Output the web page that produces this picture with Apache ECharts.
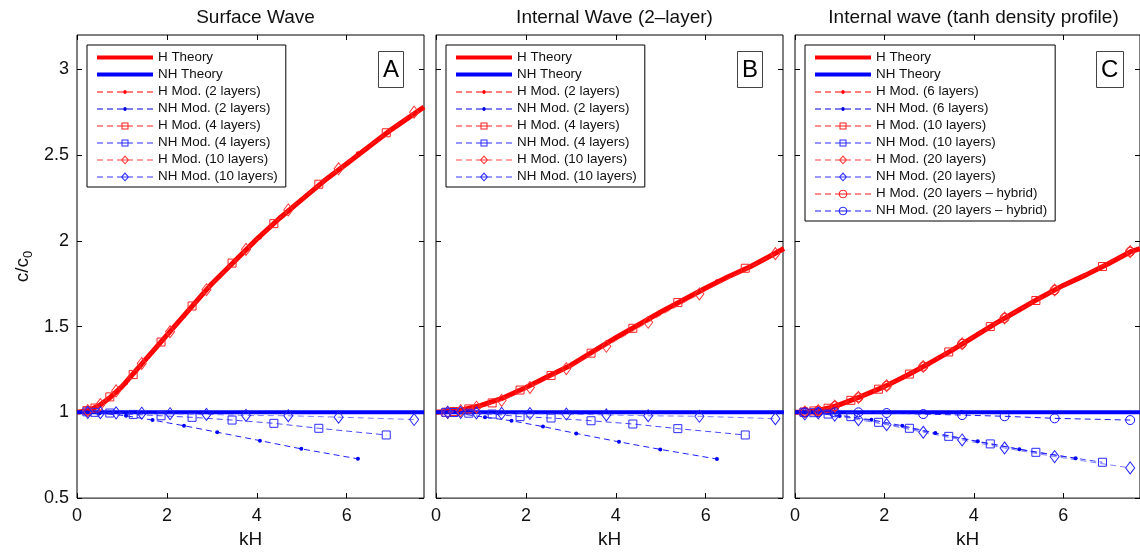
<!DOCTYPE html>
<html>
<head>
<meta charset="utf-8">
<script src="https://cdn.jsdelivr.net/npm/echarts@6/dist/echarts.min.js"></script>
<style>
html,body{margin:0;padding:0;background:#fff;}
#chart{width:1140px;height:554px;}
</style>
</head>
<body>
<div id="chart"></div>
<script>
// ---------- axis ticks / labels ----------
const xTicks = [0, 2, 4, 6];
const yTicks = [0.5, 1, 1.5, 2, 2.5, 3];
const panelTitles = ['Surface Wave', 'Internal Wave (2\u2013layer)', 'Internal wave (tanh density profile)'];
const panelLetters = ['A', 'B', 'C'];

// ---------- Panel A : surface wave ----------
const aHTheory = [[0,1],[0.25,1.01],[0.5,1.04],[0.75,1.09],[1,1.15],[1.5,1.30],[2,1.45],[2.5,1.60],[3,1.75],[3.5,1.88],[4,2.01],[4.5,2.13],[5,2.24],[5.5,2.35],[6,2.45],[6.5,2.55],[7,2.65],[7.5,2.74],[7.72,2.78]];
const aNHTheory = [[0,1],[7.72,1]];
const aX2 = [0.23,0.5,1.09,1.68,2.38,3.12,4.07,4.99,6.25];
const aHMod2 = [1.01,1.04,1.17,1.35,1.56,1.78,2.02,2.24,2.51];
const aNHMod2 = [1.0,0.995,0.98,0.955,0.922,0.884,0.835,0.787,0.729];
const aX4 = [0.22,0.4,0.73,1.25,1.87,2.56,3.45,4.38,5.38,6.88];
const aHMod4 = [1.01,1.025,1.09,1.22,1.41,1.62,1.87,2.10,2.33,2.63];
const aNHMod4 = [1.003,1.0,0.996,0.988,0.98,0.971,0.955,0.936,0.907,0.868];
const aX10 = [0.24,0.52,0.87,1.44,2.07,2.88,3.76,4.70,5.82,7.50];
const aHMod10 = [1.01,1.045,1.125,1.285,1.47,1.715,1.95,2.18,2.42,2.75];
const aNHMod10 = [1.0,0.998,0.997,0.995,0.992,0.988,0.982,0.98,0.972,0.958];

// ---------- Panel B : internal wave, 2 layers ----------
const bHTheory = [[0,1],[0.5,1.01],[1,1.04],[1.5,1.085],[2,1.145],[2.5,1.21],[3,1.275],[3.5,1.355],[4,1.435],[4.5,1.51],[5,1.585],[5.5,1.655],[6,1.725],[6.5,1.79],[7,1.85],[7.5,1.92],[7.74,1.955]];
const bNHTheory = [[0,1],[7.74,1]];
const bX2 = [0.23,0.5,1.09,1.68,2.38,3.12,4.07,4.99,6.25];
const bHMod2 = [1.0,1.01,1.045,1.105,1.195,1.295,1.445,1.585,1.765];
const bNHMod2 = [1.0,0.993,0.972,0.951,0.917,0.877,0.828,0.784,0.728];
const bX4 = [0.22,0.4,0.73,1.25,1.87,2.56,3.45,4.38,5.38,6.88];
const bHMod4 = [1.0,1.005,1.02,1.055,1.13,1.215,1.345,1.49,1.64,1.84];
const bNHMod4 = [1.0,0.999,0.995,0.99,0.975,0.967,0.951,0.932,0.905,0.868];
const bX10 = [0.26,0.55,0.90,1.46,2.09,2.90,3.79,4.72,5.86,7.55];
const bHMod10 = [1.0,1.01,1.03,1.07,1.145,1.255,1.385,1.525,1.69,1.925];
const bNHMod10 = [1.0,1.0,0.996,0.994,0.993,0.99,0.985,0.98,0.977,0.963];

// ---------- Panel C : internal wave, tanh profile ----------
const cHTheory = [[0,1],[0.25,1.002],[0.5,1.01],[0.75,1.025],[1,1.045],[1.5,1.095],[2,1.15],[2.5,1.215],[3,1.285],[3.5,1.36],[4,1.44],[4.5,1.52],[5,1.595],[5.5,1.67],[6,1.74],[6.5,1.80],[7,1.865],[7.5,1.935],[7.72,1.955]];
const cNHTheory = [[0,1],[7.72,1]];
const cX6 = [0.22,0.5,1.0,1.71,2.40,3.14,4.09,5.02,6.28];
const cHMod6 = [1.002,1.01,1.045,1.115,1.2,1.305,1.455,1.6,1.775];
const cNHMod6 = [1.0,0.995,0.978,0.957,0.922,0.879,0.831,0.785,0.732];
const cX10 = [0.2,0.42,0.74,1.25,1.87,2.56,3.44,4.37,5.39,6.88];
const cHMod10 = [1.002,1.008,1.024,1.07,1.135,1.223,1.352,1.5,1.652,1.85];
const cNHMod10 = [1.0,0.998,0.99,0.975,0.942,0.907,0.86,0.816,0.767,0.709];
const cX20 = [0.22,0.52,0.89,1.42,2.05,2.87,3.74,4.69,5.81,7.50];
const cHMod20 = [1.002,1.01,1.036,1.087,1.155,1.267,1.4,1.55,1.713,1.937];
const cNHMod20 = [0.99,0.996,0.984,0.957,0.928,0.884,0.839,0.792,0.742,0.676];
const cHHyb = [1.002,1.01,1.036,1.087,1.155,1.267,1.4,1.55,1.713,1.937];
const cNHHyb = [1.0,1.0,1.0,1.0,0.996,0.99,0.984,0.977,0.965,0.955];

// ---------- layout / styles ----------
const FONT = 'Liberation Sans, Arial, Helvetica, sans-serif';
const gridLeft = [77, 436, 795];
const gridTop = 35, gridW = 347, gridH = 464;
const X_MAX = 7.72, Y_MIN = 0.5, Y_MAX = 3.2;
const DASH = [6, 4];

const S = {
  hTh:  {kind:'theory', symbol:'none', line:'#ff0000', width:5, type:'solid', leg:'#ff0000'},
  nhTh: {kind:'theory', symbol:'none', line:'#0000ff', width:4, type:'solid', leg:'#0000ff'},
  hDot: {kind:'dot', symbol:'circle', size:4, line:'#ff0000', fill:'#ff0000', leg:'#ff0000'},
  nhDot:{kind:'dot', symbol:'circle', size:4, line:'#2020ff', fill:'#0000ff', leg:'#0000e0'},
  hSq:  {kind:'sq', symbol:'rect', size:8, line:'rgba(255,0,0,0.85)', border:'#ff2020', leg:'#ff2020'},
  nhSq: {kind:'sq', symbol:'rect', size:8, line:'rgba(30,30,255,0.8)', border:'#2a2aff', leg:'#2a2aff'},
  hDi:  {kind:'di', symbol:'diamond', size:[9,12], line:'rgba(255,60,60,0.65)', border:'#ff3030', leg:'#ff4040'},
  nhDi: {kind:'di', symbol:'diamond', size:[9,12], line:'rgba(60,60,255,0.65)', border:'#2020ff', leg:'#3535ff'},
  hCi:  {kind:'ci', symbol:'circle', size:9, line:'#ff1a1a', border:'#ff1010', leg:'#ff1a1a'},
  nhCi: {kind:'ci', symbol:'circle', size:9, line:'#1a1aff', border:'#1010ff', leg:'#1a1aff'}
};

// ---- legend icon geometry (56 x 10 box) ----
function rectP(x, y, w, h, rev) {
  return rev ? `M${x} ${y} L${x} ${y+h} L${x+w} ${y+h} L${x+w} ${y} Z `
             : `M${x} ${y} L${x+w} ${y} L${x+w} ${y+h} L${x} ${y+h} Z `;
}
function polyP(pts, rev) {
  const p = rev ? pts.slice().reverse() : pts;
  return 'M' + p.map(q => q[0].toFixed(2) + ' ' + q[1].toFixed(2)).join(' L') + ' Z ';
}
function circPts(cx, cy, r) {
  const out = [];
  for (let k = 0; k < 20; k++) { const t = 2 * Math.PI * k / 20; out.push([cx + r * Math.cos(t), cy + r * Math.sin(t)]); }
  return out;
}
function legendIcon(kind) {
  let p = 'path://M0 0 L0 0 M56 10 L56 10 ';
  if (kind === 'theory') return p + rectP(0, 3, 56, 4);
  [0, 10, 20, 30, 40, 50].forEach(x0 => { p += rectP(x0, 5, 6, 1); });
  const cx = 28, cy = 5.5;
  if (kind === 'dot') p += polyP(circPts(cx, cy, 1.9));
  if (kind === 'sq') { p += rectP(24.5, 2, 7, 7) + rectP(25.5, 3, 5, 5, true) + rectP(25.5, 5, 5, 1); }
  if (kind === 'di') {
    p += polyP([[cx,0.7],[cx+4.3,cy],[cx,10],[cx-4.3,cy]]);
    p += polyP([[cx,2.4],[cx+2.8,cy],[cx,8.6],[cx-2.8,cy]], true);
    p += rectP(cx - 2.5, 5, 5, 1);
  }
  if (kind === 'ci') { p += polyP(circPts(cx, cy, 4.3)) + polyP(circPts(cx, cy, 3.3), true) + rectP(cx - 3, 5, 6, 1); }
  return p;
}

function mk(panel, name, pts, st) {
  return {
    type:'line', name: name + '#' + panel,
    xAxisIndex: 2*panel, yAxisIndex: 2*panel,
    data: pts, silent: true, animation: false,
    symbol: st.symbol, symbolSize: st.size || 0, showSymbol: st.symbol !== 'none',
    lineStyle: {color: st.line, width: st.width || 1, type: st.type || DASH},
    itemStyle: st.border ? {color:'rgba(0,0,0,0)', borderColor: st.border, borderWidth: 1}
                         : {color: st.fill || st.line, borderWidth: 0},
    emphasis: {disabled: true}
  };
}
const zip = (xs, ys) => xs.map((x, k) => [x, ys[k]]);

const panels = [
  [
    ['H Theory', aHTheory, S.hTh], ['NH Theory', aNHTheory, S.nhTh],
    ['H Mod. (2 layers)', zip(aX2, aHMod2), S.hDot], ['NH Mod. (2 layers)', zip(aX2, aNHMod2), S.nhDot],
    ['H Mod. (4 layers)', zip(aX4, aHMod4), S.hSq], ['NH Mod. (4 layers)', zip(aX4, aNHMod4), S.nhSq],
    ['H Mod. (10 layers)', zip(aX10, aHMod10), S.hDi], ['NH Mod. (10 layers)', zip(aX10, aNHMod10), S.nhDi]
  ],
  [
    ['H Theory', bHTheory, S.hTh], ['NH Theory', bNHTheory, S.nhTh],
    ['H Mod. (2 layers)', zip(bX2, bHMod2), S.hDot], ['NH Mod. (2 layers)', zip(bX2, bNHMod2), S.nhDot],
    ['H Mod. (4 layers)', zip(bX4, bHMod4), S.hSq], ['NH Mod. (4 layers)', zip(bX4, bNHMod4), S.nhSq],
    ['H Mod. (10 layers)', zip(bX10, bHMod10), S.hDi], ['NH Mod. (10 layers)', zip(bX10, bNHMod10), S.nhDi]
  ],
  [
    ['H Theory', cHTheory, S.hTh], ['NH Theory', cNHTheory, S.nhTh],
    ['H Mod. (6 layers)', zip(cX6, cHMod6), S.hDot], ['NH Mod. (6 layers)', zip(cX6, cNHMod6), S.nhDot],
    ['H Mod. (10 layers)', zip(cX10, cHMod10), S.hSq], ['NH Mod. (10 layers)', zip(cX10, cNHMod10), S.nhSq],
    ['H Mod. (20 layers)', zip(cX20, cHMod20), S.hDi], ['NH Mod. (20 layers)', zip(cX20, cNHMod20), S.nhDi],
    ['H Mod. (20 layers \u2013 hybrid)', zip(cX20, cHHyb), S.hCi], ['NH Mod. (20 layers \u2013 hybrid)', zip(cX20, cNHHyb), S.nhCi]
  ]
];

const grid = [], xAxis = [], yAxis = [], series = [], legend = [], title = [];
const tickStyle = {inside: true, length: 5, lineStyle: {color: '#000', width: 1}};
const noLine = {show: false, onZero: false};

panels.forEach((defs, i) => {
  grid.push({left: gridLeft[i], top: gridTop, width: gridW, height: gridH, show: true,
             borderColor: '#000', borderWidth: 1, backgroundColor: 'transparent', containLabel: false});
  xAxis.push({gridIndex: i, type: 'value', min: 0, max: X_MAX, position: 'bottom',
    axisLine: noLine, splitLine: {show: false},
    axisTick: Object.assign({customValues: xTicks}, tickStyle),
    axisLabel: {customValues: xTicks, fontSize: 18, color: '#111', fontFamily: FONT, margin: 9},
    name: 'kH', nameLocation: 'middle', nameGap: 30,
    nameTextStyle: {fontSize: 19, color: '#111', fontFamily: FONT}});
  xAxis.push({gridIndex: i, type: 'value', min: 0, max: X_MAX, position: 'top',
    axisLine: noLine, splitLine: {show: false},
    axisTick: Object.assign({customValues: xTicks}, tickStyle),
    axisLabel: {show: false}});
  const yl = {gridIndex: i, type: 'value', min: Y_MIN, max: Y_MAX, position: 'left',
    axisLine: noLine, splitLine: {show: false},
    axisTick: Object.assign({customValues: yTicks}, tickStyle),
    axisLabel: {show: i === 0, customValues: yTicks, fontSize: 18, color: '#111', fontFamily: FONT, margin: 8}};
  if (i === 0) {
    yl.name = '{a|c/c}{b|0}';
    yl.nameLocation = 'middle';
    yl.nameGap = 42;
    yl.nameTextStyle = {fontFamily: FONT, color: '#111',
      rich: {a: {fontSize: 19, lineHeight: 24, fontFamily: FONT, color: '#111'},
             b: {fontSize: 13, lineHeight: 13, verticalAlign: 'bottom', fontFamily: FONT, color: '#111'}}};
  }
  yAxis.push(yl);
  yAxis.push({gridIndex: i, type: 'value', min: Y_MIN, max: Y_MAX, position: 'right',
    axisLine: noLine, splitLine: {show: false},
    axisTick: Object.assign({customValues: yTicks}, tickStyle),
    axisLabel: {show: false}});

  const legData = [];
  defs.forEach(d => {
    series.push(mk(i, d[0], d[1], d[2]));
    legData.push({name: d[0] + '#' + i, icon: legendIcon(d[2].kind),
      itemStyle: {color: d[2].leg, borderWidth: 0, borderColor: 'transparent', opacity: 1}});
  });
  legend.push({orient: 'vertical', left: gridLeft[i] + 10, top: 45,
    itemWidth: 56, itemHeight: 10, itemGap: 4, padding: [6, 8, 4, 10],
    borderColor: '#000', borderWidth: 1, backgroundColor: '#fff', borderRadius: 0,
    selectedMode: false, textStyle: {fontSize: 13.4, color: '#111', fontFamily: FONT},
    formatter: n => n.split('#')[0], data: legData, z: 10});

  title.push({text: panelTitles[i], left: gridLeft[i] + gridW / 2, textAlign: 'center', top: 3,
    textStyle: {fontSize: 19, fontWeight: 'normal', color: '#111', fontFamily: FONT}});
  title.push({text: panelLetters[i], left: gridLeft[i] + 301, top: 51,
    padding: [7, 5, 6, 5], borderColor: '#444', borderWidth: 1, backgroundColor: '#fff',
    textStyle: {fontSize: 24, fontWeight: 'normal', color: '#000', fontFamily: FONT}, z: 10});
});

const chart = echarts.init(document.getElementById('chart'), null, {renderer: 'canvas'});
chart.setOption({animation: false, backgroundColor: '#fff', grid, xAxis, yAxis, series, legend, title, tooltip: {show: false}});
</script>
</body>
</html>
